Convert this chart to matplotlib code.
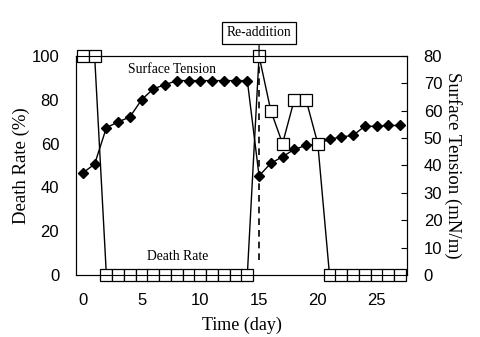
import matplotlib
matplotlib.use("Agg")
import matplotlib.pyplot as plt

days = list(range(0, 28))
death_rate = [100, 100, 0, 0, 0, 0, 0, 0, 0, 0, 0, 0, 0, 0, 0,
              100, 75, 60, 80, 80, 60, 0, 0, 0, 0, 0, 0, 0]
surface_tension = [37.3, 40.5, 53.8, 55.9, 57.7, 64.0, 68.0, 69.5, 71.0, 71.0,
                   71.0, 71.0, 71.0, 71.0, 71.0, 36.2, 40.8, 43.2, 45.9, 47.3,
                   47.8, 49.6, 50.4, 51.0, 54.3, 54.3, 54.6, 54.6]
readd_day = 15

serif = ["Liberation Serif", "DejaVu Serif"]
sans = ["Liberation Sans", "DejaVu Sans"]

fig = plt.figure(figsize=(4.8, 3.37), dpi=100)
ax = fig.add_axes([0.158, 0.184, 0.69, 0.650])
ax2 = ax.twinx()

ax.set_zorder(2)
ax.patch.set_visible(False)

ax.plot(days, death_rate, color="black", lw=1.0, marker="s", markersize=8.5,
        markerfacecolor="white", markeredgecolor="black", markeredgewidth=0.9,
        zorder=2, clip_on=False)
ax2.plot(days, surface_tension, color="black", lw=1.0, marker="D", markersize=5.2,
         markerfacecolor="black", zorder=3, clip_on=False)

ax.set_xlim(-0.6, 27.6)
ax.set_ylim(0, 100)
ax2.set_ylim(0, 80)
ax.set_xticks([0, 5, 10, 15, 20, 25])
ax.set_yticks([0, 20, 40, 60, 80, 100])
ax2.set_yticks(range(0, 81, 10))

for t in ax.get_xticklabels() + ax.get_yticklabels() + ax2.get_yticklabels():
    t.set_fontfamily(sans)
    t.set_fontsize(12)

ax.tick_params(axis="x", length=0, pad=13)
ax.tick_params(axis="y", length=0, pad=12)
ax2.tick_params(axis="y", direction="in", length=4, pad=12)

ax.set_xlabel("Time (day)", fontfamily=serif, fontsize=13, labelpad=6)
ax.set_ylabel("Death Rate (%)", fontfamily=serif, fontsize=13.5, labelpad=1)
ax2.set_ylabel("Surface Tension (mN/m)", fontfamily=serif, fontsize=13.5,
               rotation=270, labelpad=14)

ax.text(7.6, 94, "Surface Tension", fontfamily=serif, fontsize=9.8,
        ha="center", va="center")
ax.text(8.1, 8.5, "Death Rate", fontfamily=serif, fontsize=9.8,
        ha="center", va="center")

ax.plot([readd_day, readd_day], [7, 100], color="black", lw=1.2,
        linestyle=(0, (4, 3)), zorder=1)
ax.annotate("Re-addition", xy=(readd_day, 100), xytext=(readd_day, 110.5),
            ha="center", va="center", fontfamily=serif, fontsize=9.8,
            bbox=dict(boxstyle="square,pad=0.35", fc="white", ec="black", lw=0.9),
            arrowprops=dict(arrowstyle="-", color="black", lw=0.9,
                            shrinkA=0, shrinkB=0),
            annotation_clip=False)

fig.savefig("out.png", dpi=100)
